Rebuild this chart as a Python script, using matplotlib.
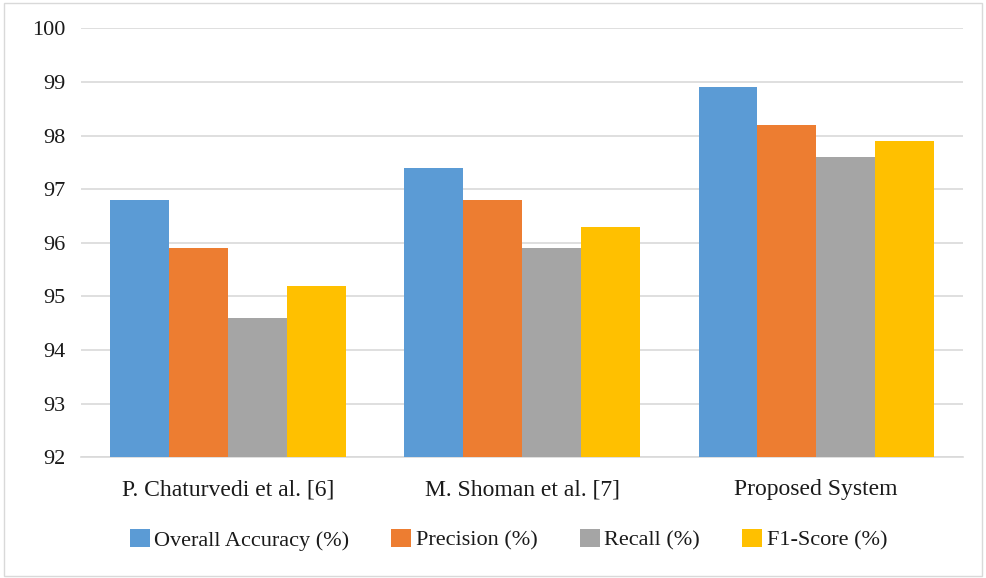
import numpy as np
import matplotlib.pyplot as plt
from matplotlib.patches import Rectangle

plt.rcParams['font.family'] = ['Liberation Serif', 'DejaVu Serif']

# data
systems = ['P. Chaturvedi et al. [6]', 'M. Shoman et al. [7]', 'Proposed System']
metrics = ['Overall Accuracy (%)', 'Precision (%)', 'Recall (%)', 'F1-Score (%)']
accuracy = [96.8, 97.4, 98.9]
precision = [95.9, 96.8, 98.2]
recall = [94.6, 95.9, 97.6]
f1_score = [95.2, 96.3, 97.9]
y_ticks = [92, 93, 94, 95, 96, 97, 98, 99, 100]

colors = ['#5B9BD5', '#ED7D31', '#A5A5A5', '#FFC000']
series = [accuracy, precision, recall, f1_score]

fig = plt.figure(figsize=(9.87, 5.78), dpi=100)
fig.patches.append(Rectangle((0.004, 0.004), 0.991, 0.991, transform=fig.transFigure,
                             fill=False, edgecolor='#D9D9D9', linewidth=1))
ax = fig.add_axes([0.082, 0.209, 0.894, 0.742])

x = np.arange(len(systems))
width = 0.2
for i, (vals, name) in enumerate(zip(series, metrics)):
    ax.bar(x + (i - 1.5) * width, np.array(vals) - 92, width, bottom=92,
           color=colors[i], label=name, zorder=3)

ax.set_ylim(92, 100)
ax.set_xlim(-0.5, len(systems) - 0.5)
ax.set_yticks(y_ticks)
ax.set_xticks(x)
ax.set_xticklabels(systems)
ax.yaxis.grid(True, color='#D9D9D9', linewidth=1.2, zorder=0)
ax.tick_params(axis='both', length=0, labelsize=16, colors='#1a1a1a')
ax.tick_params(axis='x', pad=16, labelsize=17)
ax.tick_params(axis='y', pad=11)
for s in ['left', 'right', 'top']:
    ax.spines[s].set_visible(False)
ax.spines['bottom'].set_color('#D9D9D9')
ax.spines['bottom'].set_linewidth(1.2)

fig.legend(loc='center', bbox_to_anchor=(0.515, 0.066), ncol=4, frameon=False,
           fontsize=16, handlelength=0.9, handleheight=0.9, handletextpad=0.2,
           columnspacing=1.9, labelcolor='#1a1a1a')

fig.savefig('out.png', dpi=100)
